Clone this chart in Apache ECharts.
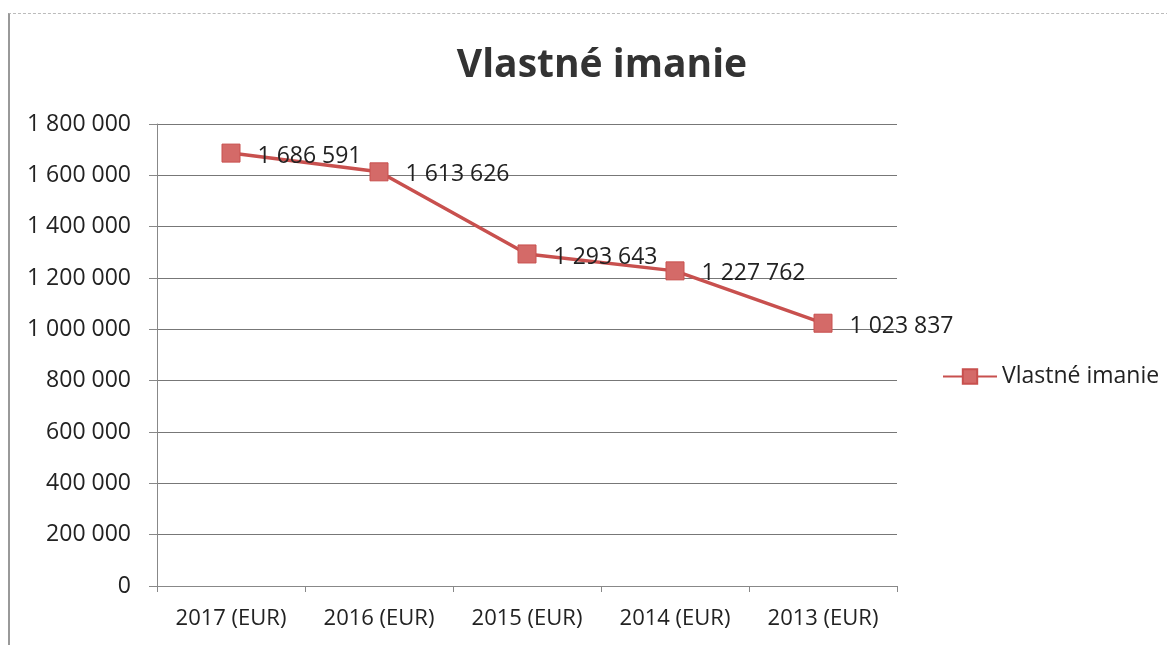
<!DOCTYPE html>
<html>
<head>
<meta charset="utf-8">
<script src="https://cdn.jsdelivr.net/npm/echarts@6/dist/echarts.min.js"></script>
<style>
  html, body { margin: 0; padding: 0; background: #fff; }
  #frame { position: absolute; left: 8px; top: 13px; width: 1159px; height: 632px;
    border-left: 2px solid #999; border-top: 1px dashed #bbb; }
  #main { width: 1167px; height: 645px; position: absolute; left: 0; top: 0; }
</style>
</head>
<body>
<div id="frame"></div>
<div id="main"></div>
<script>
const years = ['2017 (EUR)', '2016 (EUR)', '2015 (EUR)', '2014 (EUR)', '2013 (EUR)']
const equity = [1686591, 1613626, 1293643, 1227762, 1023837]
const seriesName = 'Vlastné imanie'

function fmt(v) {
  return String(v).replace(/\B(?=(\d{3})+(?!\d))/g, ' ')
}

const chart = echarts.init(document.getElementById('main'))
chart.setOption({
  animation: false,
  textStyle: { fontFamily: 'Open Sans' },
  title: {
    text: 'Vlastné imanie',
    left: 597,
    top: 41,
    textAlign: 'center',
    textStyle: { fontFamily: 'Open Sans', fontSize: 39, fontWeight: 'bold', color: '#333' }
  },
  legend: {
    left: 937,
    top: 360,
    itemWidth: 54,
    itemHeight: 18,
    itemGap: 4,
    textStyle: { fontSize: 23, color: '#222' },
    data: [seriesName]
  },
  grid: { left: 157, right: 270, top: 124, bottom: 59 },
  xAxis: {
    type: 'category',
    data: years,
    boundaryGap: true,
    axisLine: { lineStyle: { color: '#888', width: 1 } },
    axisTick: { show: true, interval: 0, length: 6, lineStyle: { color: '#888' } },
    axisLabel: { interval: 0, fontSize: 22, color: '#222', margin: 22 }
  },
  yAxis: {
    type: 'value',
    min: 0,
    max: 1800000,
    interval: 200000,
    axisLine: { show: true, lineStyle: { color: '#888' } },
    axisTick: { show: true, length: 8, lineStyle: { color: '#888' } },
    splitLine: { lineStyle: { color: '#777', width: 1 } },
    axisLabel: { fontSize: 23, color: '#222', margin: 26, formatter: fmt }
  },
  series: [{
    name: seriesName,
    type: 'line',
    data: equity,
    symbol: 'rect',
    symbolSize: 18,
    lineStyle: { color: '#C8504E', width: 3.5 },
    itemStyle: { color: '#D46A68', borderColor: '#C8504E', borderWidth: 1 },
    label: {
      show: true,
      position: 'right',
      distance: 17,
      offset: [0, 3],
      fontSize: 23,
      color: '#222',
      formatter: p => fmt(p.value)
    }
  }]
})
</script>
</body>
</html>
